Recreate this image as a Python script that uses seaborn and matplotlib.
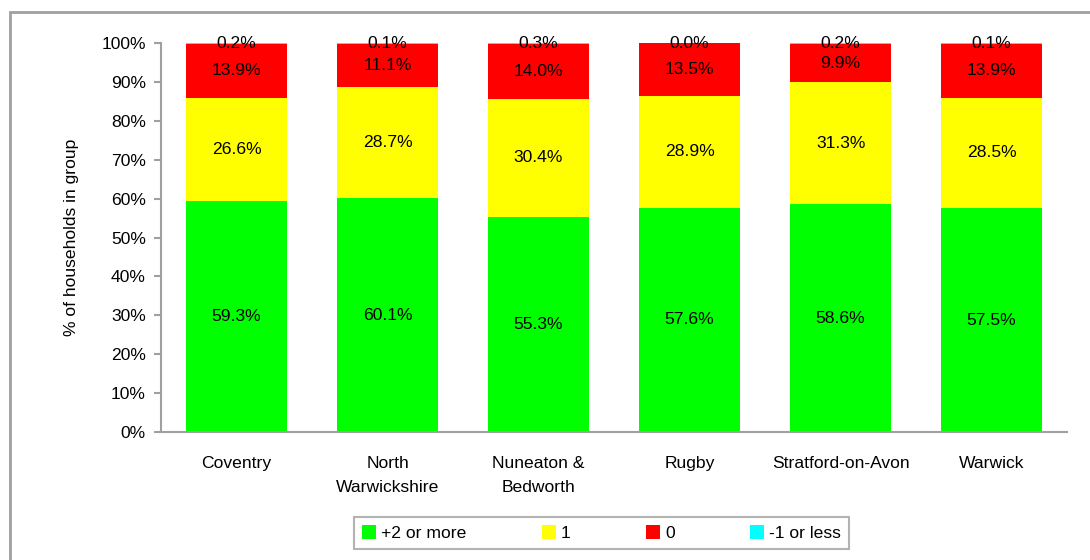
import matplotlib.pyplot as plt
from matplotlib.patches import Rectangle, Patch
import numpy as np
import pandas as pd
import seaborn as sns

areas = ["Coventry", "North\nWarwickshire", "Nuneaton &\nBedworth", "Rugby",
         "Stratford-on-Avon", "Warwick"]
series = ["+2 or more", "1", "0", "-1 or less"]
plus2 = [59.3, 60.1, 55.3, 57.6, 58.6, 57.5]
one = [26.6, 28.7, 30.4, 28.9, 31.3, 28.5]
zero = [13.9, 11.1, 14.0, 13.5, 9.9, 13.9]
minus1 = [0.2, 0.1, 0.3, 0.0, 0.2, 0.1]
colors = ["#00ff00", "#ffff00", "#ff0000", "#00ffff"]

sns.set_style("white")
plt.rcParams['font.family'] = ['Liberation Sans', 'DejaVu Sans']
plt.rcParams['font.size'] = 12.6
plt.rcParams['text.color'] = 'black'
plt.rcParams['axes.labelcolor'] = 'black'

vals = np.array([plus2, one, zero, minus1])
cum = vals.cumsum(axis=0)

fig = plt.figure(figsize=(10.9, 5.6), dpi=100)
ax = fig.add_axes([0.1477, 0.2286, 0.979 - 0.1477, 0.923 - 0.2286])

# draw cumulative totals from the top layer down so each overlaps the next
for i in range(3, -1, -1):
    df = pd.DataFrame({'area': areas, 'v': cum[i]})
    sns.barplot(data=df, x='area', y='v', color=colors[i], saturation=1,
                width=0.67, ax=ax, linewidth=0)

for j in range(len(areas)):
    for i in range(4):
        y = cum[i, j] - vals[i, j] / 2
        if i == 3:
            y = 100
        ax.text(j, y, "%.1f%%" % vals[i, j], ha='center', va='center')

ax.set_xlim(-0.5, 5.5)
ax.set_ylim(0, 100)
ax.set_yticks(range(0, 101, 10))
ax.set_yticklabels(["%d%%" % t for t in range(0, 101, 10)])
ax.set_xticks(np.arange(-0.5, 6, 1), minor=True)
ax.tick_params(axis='x', which='major', length=0, pad=17, labelcolor='black')
ax.tick_params(axis='x', which='minor', length=6, color='#a0a0a0', width=1.5)
ax.tick_params(axis='y', length=5, color='#a0a0a0', width=1.5, left=True, pad=6,
               labelcolor='black')
for t in ax.get_xticklabels():
    t.set_linespacing(1.8)
ax.set_xlabel("")
ax.set_ylabel("% of households in group", labelpad=16)
for s in ['top', 'right']:
    ax.spines[s].set_visible(False)
for s in ['left', 'bottom']:
    ax.spines[s].set_color('#a0a0a0')
    ax.spines[s].set_linewidth(1.5)

handles = [Patch(facecolor=c, edgecolor='none') for c in colors]
leg = fig.legend(handles, series, loc='center', bbox_to_anchor=(0.552, 0.048), ncol=4,
                 frameon=True, fancybox=False, edgecolor='#a0a0a0', columnspacing=4.3,
                 handlelength=0.8, handleheight=0.8, handletextpad=0.3, borderpad=0.45,
                 borderaxespad=0)
leg.get_frame().set_linewidth(1.5)

# outer frame of the original chart area
fig.patches.append(Rectangle((10 / 1090, -0.2), 1.2, 1.2 - 12 / 560, transform=fig.transFigure,
                             fill=False, edgecolor='#a0a0a0', linewidth=2, zorder=-1))

fig.savefig("out.png", dpi=100)
